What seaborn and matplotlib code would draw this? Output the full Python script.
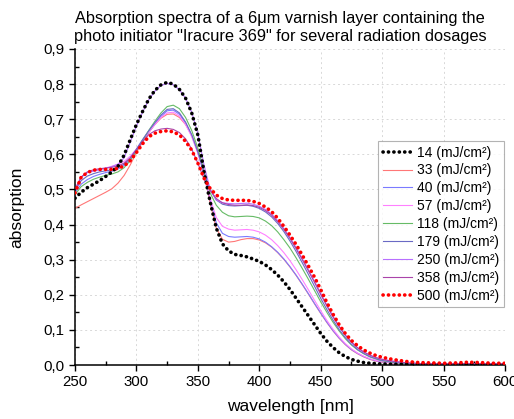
import numpy as np
import pandas as pd
import matplotlib
matplotlib.use("Agg")
import matplotlib.pyplot as plt
import seaborn as sns
from matplotlib.ticker import MultipleLocator, FuncFormatter

# wavelength grid [nm]
wavelength = list(range(250, 501, 5)) + list(range(510, 601, 10))

# absorption per radiation dose (mJ/cm²)
a14 = [0.475, 0.492, 0.505, 0.515, 0.525, 0.537, 0.550, 0.566, 0.598, 0.642,
       0.685, 0.722, 0.757, 0.782, 0.798, 0.805, 0.800, 0.785, 0.760, 0.718,
       0.655, 0.550, 0.465, 0.390, 0.345, 0.325, 0.315, 0.312, 0.308, 0.302,
       0.295, 0.285, 0.272, 0.256, 0.237, 0.215, 0.190, 0.165, 0.140, 0.115,
       0.090, 0.068, 0.050, 0.035, 0.024, 0.016, 0.011, 0.007, 0.005, 0.004,
       0.003, 0.002, 0.002, 0.002, 0.002, 0.002, 0.002, 0.002, 0.002, 0.002, 0.002]
a33 = [0.446, 0.456, 0.465, 0.474, 0.483, 0.492, 0.502, 0.518, 0.540, 0.570,
       0.605, 0.635, 0.662, 0.685, 0.703, 0.714, 0.715, 0.705, 0.685, 0.655,
       0.612, 0.545, 0.460, 0.390, 0.358, 0.350, 0.352, 0.357, 0.360, 0.360,
       0.356, 0.348, 0.336, 0.320, 0.301, 0.279, 0.255, 0.229, 0.202, 0.174,
       0.147, 0.121, 0.097, 0.076, 0.058, 0.043, 0.032, 0.023, 0.016, 0.011,
       0.008, 0.005, 0.004, 0.003, 0.003, 0.003, 0.003, 0.003, 0.003, 0.003, 0.003]
a40 = [0.490, 0.515, 0.528, 0.537, 0.543, 0.548, 0.552, 0.558, 0.568, 0.586,
       0.611, 0.638, 0.663, 0.686, 0.708, 0.724, 0.726, 0.714, 0.689, 0.653,
       0.605, 0.545, 0.470, 0.405, 0.375, 0.366, 0.364, 0.365, 0.366, 0.364,
       0.359, 0.350, 0.337, 0.321, 0.302, 0.280, 0.256, 0.230, 0.203, 0.175,
       0.148, 0.122, 0.098, 0.077, 0.059, 0.044, 0.033, 0.024, 0.017, 0.012,
       0.009, 0.006, 0.004, 0.003, 0.003, 0.003, 0.003, 0.003, 0.003, 0.003, 0.003]
a57 = [0.500, 0.535, 0.548, 0.553, 0.557, 0.561, 0.566, 0.572, 0.580, 0.595,
       0.615, 0.640, 0.663, 0.685, 0.705, 0.718, 0.720, 0.709, 0.685, 0.650,
       0.603, 0.545, 0.475, 0.420, 0.395, 0.387, 0.384, 0.385, 0.386, 0.384,
       0.379, 0.370, 0.357, 0.340, 0.320, 0.297, 0.271, 0.243, 0.214, 0.184,
       0.155, 0.127, 0.102, 0.080, 0.061, 0.046, 0.034, 0.025, 0.018, 0.013,
       0.010, 0.006, 0.004, 0.003, 0.003, 0.003, 0.003, 0.003, 0.003, 0.003, 0.003]
a118 = [0.485, 0.508, 0.520, 0.529, 0.535, 0.540, 0.544, 0.550, 0.562, 0.582,
        0.610, 0.640, 0.668, 0.694, 0.718, 0.736, 0.740, 0.730, 0.705, 0.668,
        0.618, 0.555, 0.490, 0.455, 0.435, 0.425, 0.422, 0.423, 0.424, 0.423,
        0.419, 0.410, 0.397, 0.379, 0.357, 0.333, 0.305, 0.275, 0.244, 0.212,
        0.180, 0.150, 0.122, 0.097, 0.075, 0.057, 0.043, 0.032, 0.023, 0.017,
        0.012, 0.007, 0.004, 0.003, 0.003, 0.003, 0.003, 0.003, 0.003, 0.003, 0.003]
a179 = [0.497, 0.525, 0.538, 0.545, 0.550, 0.553, 0.556, 0.562, 0.572, 0.590,
        0.615, 0.642, 0.667, 0.690, 0.712, 0.728, 0.730, 0.718, 0.692, 0.656,
        0.607, 0.548, 0.500, 0.470, 0.458, 0.454, 0.453, 0.454, 0.455, 0.452,
        0.446, 0.436, 0.422, 0.403, 0.380, 0.353, 0.323, 0.291, 0.258, 0.224,
        0.190, 0.158, 0.128, 0.101, 0.078, 0.059, 0.044, 0.033, 0.024, 0.018,
        0.013, 0.008, 0.005, 0.004, 0.004, 0.004, 0.004, 0.004, 0.004, 0.004, 0.004]
a250 = [0.500, 0.535, 0.548, 0.552, 0.556, 0.560, 0.565, 0.572, 0.590, 0.635,
        0.680, 0.720, 0.755, 0.780, 0.796, 0.802, 0.798, 0.784, 0.760, 0.720,
        0.660, 0.570, 0.500, 0.470, 0.462, 0.460, 0.459, 0.460, 0.461, 0.458,
        0.452, 0.443, 0.430, 0.411, 0.389, 0.363, 0.334, 0.303, 0.271, 0.238,
        0.204, 0.170, 0.139, 0.110, 0.085, 0.065, 0.049, 0.037, 0.028, 0.021,
        0.016, 0.010, 0.006, 0.004, 0.004, 0.004, 0.004, 0.004, 0.004, 0.004, 0.004]
a358 = [0.500, 0.535, 0.550, 0.556, 0.559, 0.561, 0.563, 0.567, 0.575, 0.590,
        0.612, 0.636, 0.656, 0.667, 0.672, 0.674, 0.671, 0.662, 0.644, 0.615,
        0.575, 0.530, 0.497, 0.474, 0.462, 0.457, 0.455, 0.455, 0.456, 0.454,
        0.449, 0.440, 0.427, 0.408, 0.386, 0.360, 0.331, 0.300, 0.268, 0.235,
        0.201, 0.168, 0.137, 0.109, 0.085, 0.065, 0.049, 0.037, 0.028, 0.021,
        0.016, 0.010, 0.006, 0.004, 0.004, 0.004, 0.004, 0.004, 0.004, 0.004, 0.004]
a500 = [0.490, 0.535, 0.548, 0.555, 0.557, 0.557, 0.557, 0.560, 0.567, 0.582,
        0.605, 0.630, 0.650, 0.660, 0.665, 0.667, 0.664, 0.655, 0.637, 0.612,
        0.575, 0.532, 0.503, 0.484, 0.474, 0.470, 0.469, 0.469, 0.469, 0.466,
        0.460, 0.450, 0.437, 0.418, 0.395, 0.370, 0.343, 0.313, 0.282, 0.250,
        0.215, 0.178, 0.145, 0.115, 0.090, 0.070, 0.055, 0.043, 0.034, 0.027,
        0.022, 0.015, 0.010, 0.007, 0.006, 0.005, 0.006, 0.008, 0.007, 0.005, 0.005]

doses = ["14", "33", "40", "57", "118", "179", "250", "358", "500"]
series = [a14, a33, a40, a57, a118, a179, a250, a358, a500]
colors = ["black", "#ff7777", "#7a7aff", "#ff80ff", "#66bb66",
          "#6a6ac4", "#b870ff", "#aa44aa", "#ff0000"]

plt.rcParams["font.family"] = ["Liberation Sans", "DejaVu Sans"]

fig = plt.figure(figsize=(5.14, 4.19), dpi=100)
ax = fig.add_axes([75 / 514, 1 - 365 / 419, 430 / 514, 316 / 419])

for dose, vals, col in zip(doses, series, colors):
    label = f"{dose} (mJ/cm²)"
    if dose in ("14", "500"):
        sns.lineplot(x=wavelength, y=vals, ax=ax, color=col, label=label,
                     lw=2.6, linestyle=(0, (0.05, 1.45)),
                     dash_capstyle="round", zorder=3)
    else:
        sns.lineplot(x=wavelength, y=vals, ax=ax, color=col, label=label,
                     lw=0.8, zorder=2)

ax.set_xlim(250, 600)
ax.set_ylim(0, 0.9)
ax.xaxis.set_major_locator(MultipleLocator(50))
ax.xaxis.set_minor_locator(MultipleLocator(25))
ax.yaxis.set_major_locator(MultipleLocator(0.1))
ax.yaxis.set_minor_locator(MultipleLocator(0.05))
ax.yaxis.set_major_formatter(FuncFormatter(lambda v, p: f"{v:.1f}".replace(".", ",")))
ax.tick_params(which="major", direction="out", length=4, width=1, labelsize=10.8)
ax.tick_params(which="minor", direction="in", length=3, width=1)
for s in ("top", "right"):
    ax.spines[s].set_visible(False)
for s in ("left", "bottom"):
    ax.spines[s].set_linewidth(1.1)
ax.grid(True, which="major", linestyle=(0, (2, 3)), color="#d8d8d8", lw=0.7)
ax.set_axisbelow(True)

ax.set_xlabel("wavelength [nm]", fontsize=12.5, labelpad=7)
ax.set_ylabel("absorption", fontsize=12.5, labelpad=14)

fig.text(280 / 514, 1 - 27 / 419,
         "Absorption spectra of a 6μm varnish layer containing the\n"
         "photo initiator \"Iracure 369\" for several radiation dosages",
         ha="center", va="center", fontsize=11.8, linespacing=1.25)

leg = ax.legend(loc="upper right", bbox_to_anchor=(0.997, 0.71), fontsize=10,
                frameon=True, fancybox=False, edgecolor="#a0a0a0",
                handlelength=2.1, borderpad=0.35, labelspacing=0.28,
                handletextpad=0.3, borderaxespad=0.0)
leg.get_frame().set_linewidth(0.8)

fig.savefig("out.png", dpi=100)
